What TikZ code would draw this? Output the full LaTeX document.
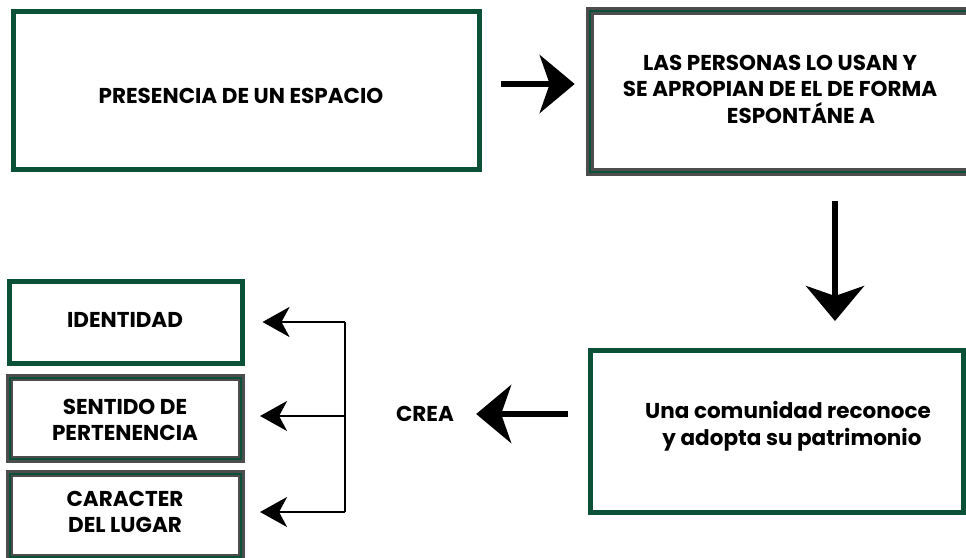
\documentclass[tikz,border=0pt]{standalone}
\usepackage{fontspec}
\setmainfont{Poppins}
\usetikzlibrary{arrows.meta}
\definecolor{dgreen}{HTML}{0B5138}
\definecolor{dgray}{HTML}{4D4D4D}
\begin{document}
\begin{tikzpicture}[x=1pt,y=-1pt,
  txt/.style={font=\fontsize{21.5}{26.5}\selectfont\bfseries, align=center, inner sep=0pt},
  gbox/.style={draw=dgreen, line width=5pt, fill=white, rectangle, inner sep=0pt},
  dbox/.style={draw=dgray, double=dgreen, double distance=2pt, line width=2.6pt, fill=white, rectangle, inner sep=0pt},
  bigarrow/.style={line width=6.5pt, -{Stealth[length=35pt, width=58pt, inset=10pt]}},
  smallarrow/.style={line width=2.6pt, -{Stealth[length=27pt, width=30pt, inset=8pt]}},
  brk/.style={line width=2.6pt}
]
\useasboundingbox (0,0) rectangle (966,557);
\fill[white] (0,0) rectangle (966,557);
% boxes
\node[gbox, minimum width=466pt, minimum height=158pt] (b1) at (246,90) {};
\node[dbox, minimum width=380pt, minimum height=161pt] (b2) at (780,91.5) {};
\node[gbox, minimum width=373pt, minimum height=162pt] (b3) at (777,431.5) {};
\node[gbox, minimum width=233pt, minimum height=82pt] (i1) at (126,322.5) {};
\node[dbox, minimum width=231.5pt, minimum height=81.5pt] (i2) at (125.5,418.5) {};
\node[dbox, minimum width=231.5pt, minimum height=83.5pt] (i3) at (125.5,515.5) {};
% texts
\node[txt] (t1) at (241,96) {PRESENCIA DE UN ESPACIO};
\node[txt] (t2) at (780,89) {LAS PERSONAS LO USAN Y\\SE APROPIAN DE EL DE FORMA\\\hspace*{42pt}ESPONTÁNE A};
\node[txt] (t3) at (788,426) {Una comunidad reconoce\\\hspace*{8pt}y adopta su patrimonio};
\node[txt] (crea) at (425,414) {CREA};
\node[txt] (ti1) at (125,320) {IDENTIDAD};
\node[txt] (ti2) at (125,420) {SENTIDO DE\\PERTENENCIA};
\node[txt] (ti3) at (125,512) {CARACTER\\DEL LUGAR};
% main arrows
\coordinate (ax) at (835,0);
\draw[bigarrow, shorten <=19pt, shorten >=14pt] ([yshift=6pt]b1.east) -- ([yshift=6pt]b1.east -| b2.west);
\draw[bigarrow, shorten <=28pt, shorten >=27pt] (b2.south -| ax) -- (b3.north -| ax);
\draw[bigarrow, shorten <=20pt, shorten >=22pt] (b3.west |- crea) -- (crea.east);
% bracket
\coordinate (j1) at (345,322);
\coordinate (j2) at (345,416);
\coordinate (j3) at (345,512);
\draw[brk] (j1) -- (j3);
\draw[smallarrow, shorten >=17.5pt] (j1) -- (i1.east |- j1);
\draw[smallarrow, shorten >=17.5pt] (j2) -- (i2.east |- j2);
\draw[smallarrow, shorten >=17.5pt] (j3) -- (i3.east |- j3);
\end{tikzpicture}
\end{document}
